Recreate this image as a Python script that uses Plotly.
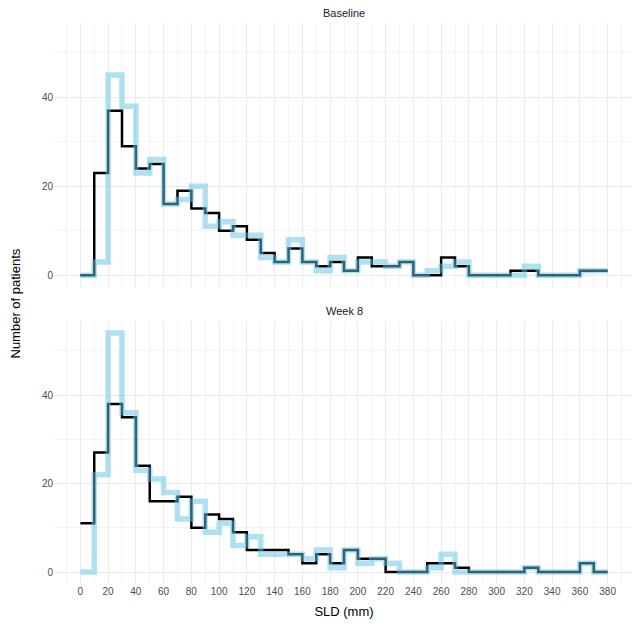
import plotly.graph_objects as go
from plotly.subplots import make_subplots

# bin edges (10 mm bins from 0 to 380)
bin_edges = list(range(0, 390, 10))

# counts per bin
baseline_black = [0, 23, 37, 29, 24, 25, 16, 19, 15, 14, 10, 11, 8, 5, 3, 6, 3, 2, 3, 1,
                  4, 2, 2, 3, 0, 0, 4, 2, 0, 0, 0, 1, 1, 0, 0, 0, 1, 1]
baseline_blue = [0, 3, 45, 38, 23, 26, 16, 17, 20, 11, 12, 9, 9, 4, 3, 8, 3, 1, 4, 1,
                 3, 3, 2, 3, 0, 1, 2, 3, 0, 0, 0, 0, 2, 0, 0, 0, 1, 1]
week8_black = [11, 27, 38, 35, 24, 16, 16, 17, 10, 13, 12, 9, 5, 5, 5, 4, 2, 4, 2, 5,
               3, 3, 0, 0, 0, 2, 2, 1, 0, 0, 0, 0, 1, 0, 0, 0, 2, 0]
week8_blue = [0, 22, 54, 36, 23, 21, 18, 12, 16, 9, 11, 6, 8, 4, 4, 4, 3, 5, 1, 5,
              2, 3, 2, 0, 0, 1, 4, 0, 0, 0, 0, 0, 1, 0, 0, 0, 2, 0]

facet_titles = ["Baseline", "Week 8"]
x_ticks = list(range(0, 400, 20))

fig = make_subplots(rows=2, cols=1, shared_xaxes=True)

# step outline: repeat last count so the final bin gets its flat top
def steps(counts):
    return counts + [counts[-1]]

panels = [(baseline_black, baseline_blue), (week8_black, week8_blue)]
for i, (black, blue) in enumerate(panels):
    row = i + 1
    fig.add_trace(go.Scatter(x=bin_edges, y=steps(black), mode="lines", line_shape="hv",
                             line=dict(color="black", width=2.5), showlegend=False), row=row, col=1)
    fig.add_trace(go.Scatter(x=bin_edges, y=steps(blue), mode="lines", line_shape="hv",
                             line=dict(color="rgba(95,195,230,0.5)", width=5.5), showlegend=False), row=row, col=1)

axis_style = dict(showgrid=True, gridcolor="#ebebeb", gridwidth=1, zeroline=False,
                  showline=False, ticks="", tickfont=dict(size=10, color="#4d4d4d"), automargin=False)

fig.update_xaxes(range=[-19, 399], tickvals=x_ticks, minor=dict(dtick=10, showgrid=True, gridcolor="#f4f4f4"),
                 **axis_style)
fig.update_xaxes(showticklabels=False, row=1, col=1)
fig.update_xaxes(title_text="SLD (mm)", title_font=dict(size=13, color="black"), title_standoff=10, row=2, col=1)
fig.update_yaxes(range=[-2.7, 56.7], tickvals=[0, 20, 40], minor=dict(tickvals=[10, 30, 50], showgrid=True, gridcolor="#f4f4f4"),
                 **axis_style)

# the page body has an 8px margin, so the figure is sized/placed to suit
fig.update_layout(
    width=632, height=623,
    margin=dict(l=46, r=6, t=15, b=47),
    plot_bgcolor="white", paper_bgcolor="white",
    font=dict(family="Liberation Sans, Arial, sans-serif"),
    yaxis=dict(domain=[0.529, 1.0]),
    yaxis2=dict(domain=[0.0, 0.4686]),
)

# facet strip titles
for title, yref in zip(facet_titles, ["y domain", "y2 domain"]):
    fig.add_annotation(text=title, xref="x domain", yref=yref, x=0.5, y=1, yshift=10,
                       xanchor="center", yanchor="middle", showarrow=False,
                       font=dict(size=11, color="#1a1a1a"))

fig.add_annotation(text="Number of patients", xref="paper", yref="paper", x=0, xshift=-39, y=0.5,
                   textangle=-90, showarrow=False, font=dict(size=13, color="black"),
                   xanchor="center", yanchor="middle")

fig.write_html("out.html")
